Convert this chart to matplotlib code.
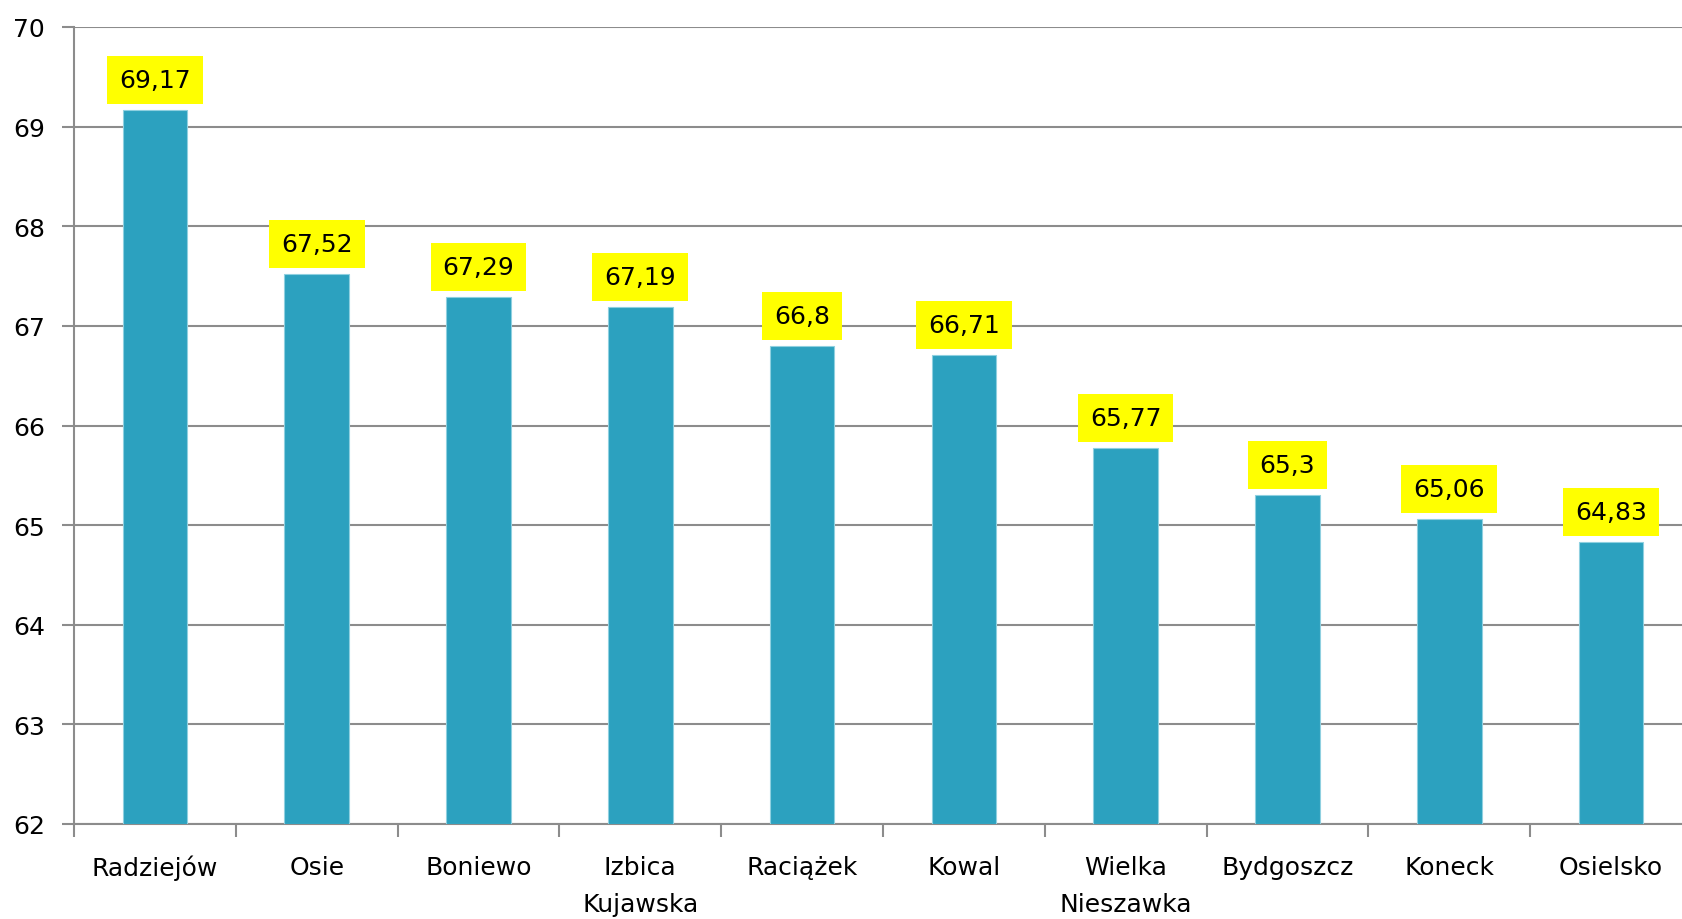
import matplotlib.pyplot as plt
import numpy as np

categories = [
    "Radziejów", "Osie", "Boniewo", "Izbica\nKujawska", "Raciążek",
    "Kowal", "Wielka\nNieszawka", "Bydgoszcz", "Koneck", "Osielsko",
]
values = [69.17, 67.52, 67.29, 67.19, 66.8, 66.71, 65.77, 65.3, 65.06, 64.83]
y_ticks = [62, 63, 64, 65, 66, 67, 68, 69, 70]

BAR_COLOR = "#2ca1bf"
GRID_COLOR = "#8c8c8c"

plt.rcParams["font.family"] = ["DejaVu Sans"]

fig = plt.figure(figsize=(16.82, 9.2), dpi=100)
ax = fig.add_axes([74 / 1682, 95 / 920, 1618 / 1682, 797 / 920])

x = np.arange(len(categories))
ax.bar(x, [v - 62 for v in values], bottom=62, width=0.4,
       color=BAR_COLOR, edgecolor="#8fd0e0", linewidth=0.8, zorder=3)

for xi, v in zip(x, values):
    label = f"{v:g}".replace(".", ",")
    ax.annotate(label, xy=(xi, v), xytext=(0, 13), textcoords="offset points",
                ha="center", va="bottom", fontsize=18, color="black",
                bbox=dict(boxstyle="square,pad=0.48", facecolor="#ffff00",
                          edgecolor="none"), zorder=4)

ax.set_xlim(-0.5, len(categories) - 0.5)
ax.set_ylim(62, 70)
ax.set_yticks(y_ticks)
ax.set_yticklabels([str(t) for t in y_ticks], fontsize=18)
ax.yaxis.grid(True, color=GRID_COLOR, linewidth=1.5, zorder=0)
ax.set_axisbelow(True)

ax.set_xticks(x)
ax.set_xticklabels(categories, fontsize=18, linespacing=1.7)
ax.tick_params(axis="x", length=0, pad=22)
ax.set_xticks(np.arange(len(categories) + 1) - 0.5, minor=True)
ax.tick_params(axis="x", which="minor", length=9, width=1.5, color=GRID_COLOR)
ax.tick_params(axis="y", length=9, width=1.5, color=GRID_COLOR, pad=12)

for side in ["top", "right"]:
    ax.spines[side].set_visible(False)
for side in ["left", "bottom"]:
    ax.spines[side].set_color(GRID_COLOR)
    ax.spines[side].set_linewidth(1.5)

fig.savefig("out.png", dpi=100)
